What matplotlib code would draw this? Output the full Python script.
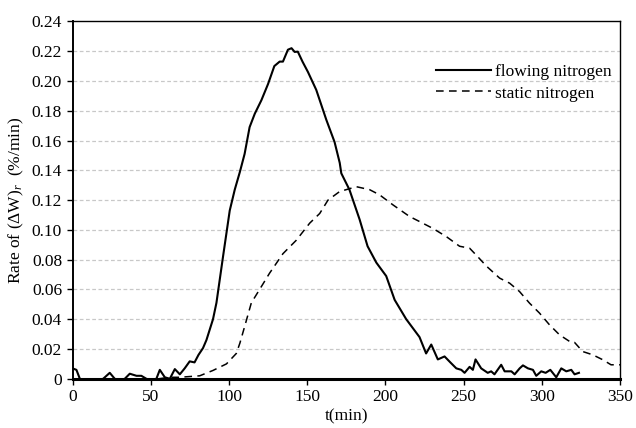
import numpy as np
import matplotlib
matplotlib.use('Agg')
import matplotlib.pyplot as plt
import matplotlib.ticker as mtick

plt.rcParams['font.family'] = ['Liberation Serif', 'DejaVu Serif']
plt.rcParams['mathtext.fontset'] = 'custom'
plt.rcParams['mathtext.rm'] = 'Liberation Serif'
plt.rcParams['mathtext.it'] = 'Liberation Serif:italic'

# flowing nitrogen (t in min, rate in %/min)
t_flow = [0, 2.5, 4.7, 8, 12, 15.6, 19.6, 23.8, 27, 30, 33.4, 36.6, 40.9, 44, 47.2, 50.4, 53.6,
          55.8, 59, 62.2, 65.4, 68.6, 71.7, 74.9, 78, 80.5, 83.4, 85.6, 89.8, 92, 96.2, 100.5,
          103.7, 107, 110, 113.2, 116.5, 120.7, 125, 129, 132.4, 134.5, 137.7, 140, 142, 144,
          147, 150.5, 155.8, 162.2, 167.5, 170.8, 171.8, 177, 183.5, 188.6, 194.2, 200.5, 205.9,
          213.3, 221.8, 226, 229.3, 233.5, 237.8, 241.5, 245.3, 248.5, 250.6, 253.8, 255.9,
          257.6, 261.2, 265.4, 267.6, 269.7, 274, 276.2, 280.5, 282.6, 285.8, 287.9, 291.1,
          294.3, 296.4, 299.6, 302.4, 305.4, 309.2, 312.4, 315.6, 318.8, 320.9, 323.7]
v_flow = [0.007, 0.006, 0.0, -0.004, -0.003, -0.001, 0.0, 0.004, 0.0, -0.001, 0.0, 0.0034,
          0.002, 0.002, 0.0, -0.001, 0.0, 0.006, 0.001, 0.0, 0.0065, 0.003, 0.007, 0.0117,
          0.011, 0.016, 0.0206, 0.026, 0.04, 0.051, 0.082, 0.113, 0.127, 0.139, 0.151, 0.169,
          0.178, 0.187, 0.198, 0.21, 0.213, 0.213, 0.221, 0.222, 0.2195, 0.2197, 0.213, 0.206,
          0.194, 0.174, 0.159, 0.145, 0.138, 0.127, 0.107, 0.089, 0.078, 0.069, 0.053, 0.040,
          0.028, 0.017, 0.023, 0.013, 0.015, 0.011, 0.007, 0.006, 0.004, 0.008, 0.006, 0.013,
          0.007, 0.004, 0.005, 0.003, 0.0094, 0.005, 0.005, 0.003, 0.007, 0.009, 0.007, 0.006,
          0.002, 0.005, 0.004, 0.006, 0.001, 0.007, 0.005, 0.006, 0.003, 0.004]

# static nitrogen
t_stat = [55, 62, 68, 74.9, 81.3, 89.8, 98.4, 104.7, 107, 110, 114.3, 119.6, 126, 134.5, 143,
          151.6, 158, 163.3, 170.7, 181.4, 189.9, 196.3, 204.8, 215.4, 221.8, 230.3, 238.9,
          247.4, 253.8, 259, 264.4, 273, 279.4, 285.7, 292.1, 298.5, 304.9, 311.3, 318.7,
          320.9, 326.1, 332.5, 338.9, 344.2, 350]
v_stat = [0.0, 0.001, 0.001, 0.0015, 0.002, 0.0056, 0.010, 0.017, 0.024, 0.035, 0.051, 0.060,
          0.071, 0.084, 0.093, 0.1045, 0.111, 0.120, 0.1257, 0.129, 0.127, 0.1235, 0.1168,
          0.109, 0.1056, 0.101, 0.0955, 0.089, 0.0877, 0.082, 0.0758, 0.0676, 0.0642, 0.0586,
          0.0508, 0.0441, 0.0362, 0.0295, 0.0244, 0.0244, 0.0183, 0.0161, 0.0128, 0.0094, 0.0094]

fig = plt.figure(figsize=(6.36, 4.28), dpi=100)
ax = fig.add_axes([0.114, 0.115, 0.861, 0.835])

ax.plot(t_flow, v_flow, color='black', lw=1.5, label='flowing nitrogen')
ax.plot(t_stat, v_stat, color='black', lw=1.1, ls=(0, (5, 3.5)), label='static nitrogen')

ax.set_xlim(0, 350)
ax.set_ylim(0, 0.24)
ax.set_xticks(np.arange(0, 351, 50))
ax.set_yticks(np.arange(0, 0.241, 0.02))
ax.yaxis.set_major_formatter(mtick.FuncFormatter(lambda v, p: '0' if v == 0 else '%.2f' % v))
ax.tick_params(direction='out', length=4, width=1, labelsize=12.5, colors='black')
for y in np.arange(0.02, 0.23, 0.02):
    ax.axhline(y, color='#c8c8c8', lw=0.9, ls=(0, (3, 2)), zorder=0)

ax.spines['bottom'].set_linewidth(2.2)
ax.spines['left'].set_linewidth(1.4)
ax.spines['top'].set_linewidth(1.0)
ax.spines['right'].set_linewidth(1.0)

ax.set_xlabel('t(min)', fontsize=12.5, labelpad=2)
ax.set_ylabel('Rate of (ΔW)$_{r}$  (%/min)', fontsize=12.5, labelpad=4)
ax.legend(loc='upper right', bbox_to_anchor=(1.0, 0.905), frameon=False, fontsize=12.5,
          handlelength=3.2, handletextpad=0.2, labelspacing=0.3, borderaxespad=0.1)

fig.savefig('out.png', dpi=100)
